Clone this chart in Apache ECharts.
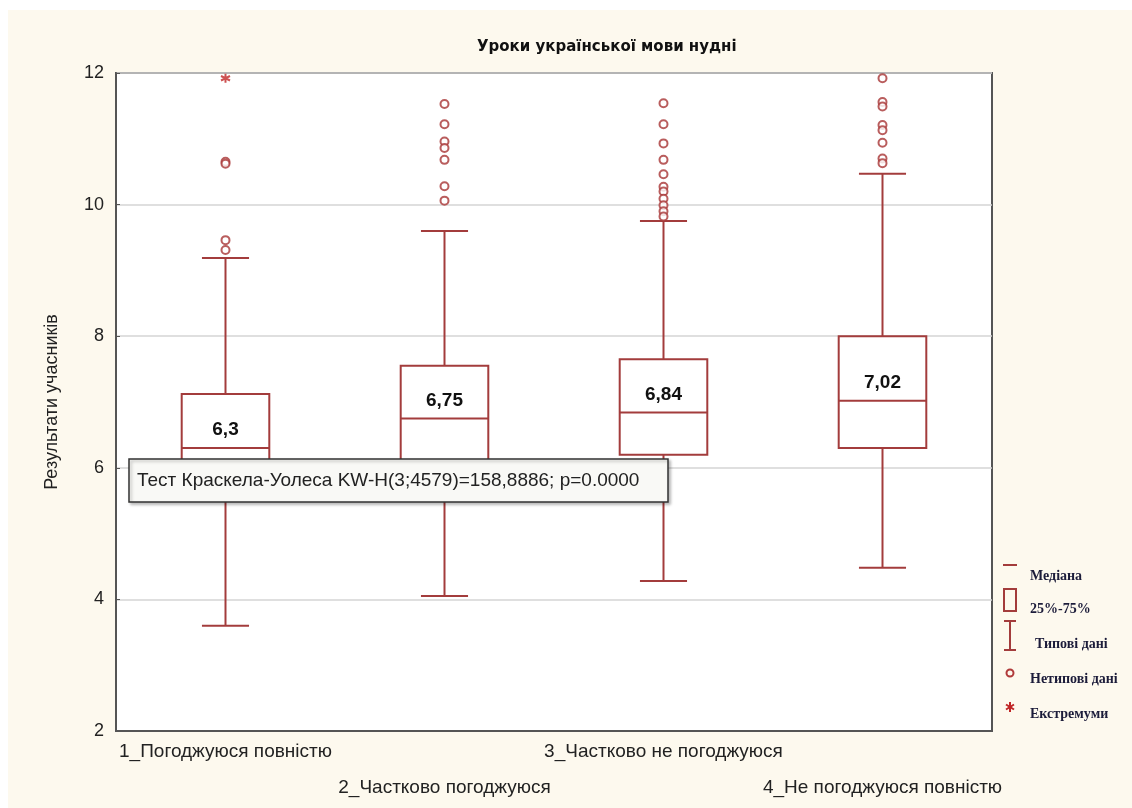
<!DOCTYPE html>
<html>
<head>
<meta charset="utf-8">
<title>Уроки української мови нудні</title>
<script src="https://cdn.jsdelivr.net/npm/echarts@6/dist/echarts.min.js"></script>
<style>
    html, body {
        margin: 0; padding: 0; overflow: hidden;
        background: linear-gradient(#fff, #fff) top left / 100% 10px no-repeat,
                    linear-gradient(#fff, #fff) top left / 8px 100% no-repeat,
                    #fdf9ee;
    }
    #container { width: 1132px; height: 808px; }
</style>
</head>
<body>
<div id="container"></div>
<script>
// групи відповідей
var categories = ['1_Погоджуюся повністю', '2_Частково погоджуюся', '3_Частково не погоджуюся', '4_Не погоджуюся повністю'];
// межі "типових даних", квартилі і медіана
var whiskerLow = [3.6, 4.05, 4.28, 4.48];
var q1 = [5.75, 5.95, 6.2, 6.3];
var median = [6.3, 6.75, 6.84, 7.02];
var q3 = [7.12, 7.55, 7.65, 8.0];
var whiskerHigh = [9.19, 9.6, 9.75, 10.47];
var medianLabels = ['6,3', '6,75', '6,84', '7,02'];
// нетипові дані (індекс групи, значення)
var outliers = [
    [0, 10.65], [0, 10.62], [0, 9.46], [0, 9.31],
    [1, 11.53], [1, 11.22], [1, 10.96], [1, 10.86], [1, 10.68], [1, 10.28], [1, 10.06],
    [2, 11.54], [2, 11.22], [2, 10.93], [2, 10.68], [2, 10.46], [2, 10.27], [2, 10.2], [2, 10.09], [2, 9.99], [2, 9.9], [2, 9.82],
    [3, 11.92], [3, 11.56], [3, 11.49], [3, 11.21], [3, 11.13], [3, 10.94], [3, 10.7], [3, 10.63]
];
// екстремуми
var extremes = [[0, 11.92]];
var yTicks = [2, 4, 6, 8, 10, 12];

var boxColor = '#a33c3c';

var boxData = [];
for (var i = 0; i < categories.length; i++) {
    boxData.push([i, whiskerLow[i], q1[i], median[i], q3[i], whiskerHigh[i]]);
}

function renderBox(params, api) {
    var x = api.value(0);
    var lo = api.coord([x, api.value(1)]);
    var b1 = api.coord([x, api.value(2)]);
    var md = api.coord([x, api.value(3)]);
    var b3 = api.coord([x, api.value(4)]);
    var hi = api.coord([x, api.value(5)]);
    var band = api.size([1, 0])[0];
    var bw = band * 0.4;
    var cw = band * 0.215;
    var cx = md[0];
    var line = { stroke: boxColor, lineWidth: 2 };
    return {
        type: 'group',
        children: [
            { type: 'line', shape: { x1: cx, y1: hi[1], x2: cx, y2: b3[1] }, style: line },
            { type: 'line', shape: { x1: cx, y1: b1[1], x2: cx, y2: lo[1] }, style: line },
            { type: 'line', shape: { x1: cx - cw / 2, y1: hi[1], x2: cx + cw / 2, y2: hi[1] }, style: line },
            { type: 'line', shape: { x1: cx - cw / 2, y1: lo[1], x2: cx + cw / 2, y2: lo[1] }, style: line },
            {
                type: 'rect',
                shape: { x: cx - bw / 2, y: b3[1], width: bw, height: b1[1] - b3[1] },
                style: { fill: '#fff', stroke: boxColor, lineWidth: 2 }
            },
            { type: 'line', shape: { x1: cx - bw / 2, y1: md[1], x2: cx + bw / 2, y2: md[1] }, style: line },
            {
                type: 'text',
                x: cx, y: md[1] - 18,
                style: {
                    text: medianLabels[params.dataIndex],
                    fill: '#111',
                    font: 'bold 19px "Liberation Sans", Arial, sans-serif',
                    textAlign: 'center',
                    textVerticalAlign: 'middle'
                }
            }
        ]
    };
}

var legendFont = 'bold 14px "Liberation Serif", "DejaVu Serif", serif';
var legendText = '#1c1c3a';
var topZ = 100;

var myChart = echarts.init(document.getElementById("container"));
option = null;
option = {
    backgroundColor: 'transparent',
    animation: false,
    title: {
        text: 'Уроки української мови нудні',
        left: 472,
        top: 35,
        textStyle: {
            fontFamily: '"DejaVu Sans", sans-serif',
            fontWeight: 'bold',
            fontSize: 15,
            color: '#111'
        }
    },
    grid: {
        left: 116,
        right: 140,
        top: 73,
        bottom: 77,
        show: true,
        backgroundColor: '#fff',
        borderColor: '#555',
        borderWidth: 2
    },
    xAxis: {
        type: 'category',
        data: categories,
        boundaryGap: true,
        axisLine: { lineStyle: { color: '#555', width: 2 } },
        axisTick: { inside: true, alignWithLabel: true, length: 5, lineStyle: { color: '#555' } },
        axisLabel: {
            interval: 0,
            margin: 3,
            lineHeight: 36,
            fontSize: 19,
            fontFamily: '"Liberation Sans Narrow", "Liberation Sans", sans-serif',
            color: '#222',
            formatter: function (value, index) {
                return index % 2 ? '\n' + value : value;
            }
        },
        splitLine: { show: false }
    },
    yAxis: {
        type: 'value',
        min: yTicks[0],
        max: yTicks[yTicks.length - 1],
        interval: 2,
        name: 'Результати учасників',
        nameLocation: 'middle',
        nameRotate: 90,
        nameGap: 55,
        nameTextStyle: {
            fontSize: 18,
            fontFamily: '"Liberation Sans", Arial, sans-serif',
            color: '#222'
        },
        axisLine: { show: true, lineStyle: { color: '#555', width: 2 } },
        axisTick: { show: true, inside: true, length: 4, lineStyle: { color: '#555' } },
        axisLabel: {
            margin: 12,
            fontSize: 18,
            fontFamily: '"Liberation Sans", Arial, sans-serif',
            color: '#222'
        },
        splitLine: { show: true, lineStyle: { color: '#d4d4d4', width: 1.5 } }
    },
    series: [
        {
            name: '25%-75%',
            type: 'custom',
            renderItem: renderBox,
            encode: { x: 0, y: [1, 2, 3, 4, 5] },
            data: boxData,
            z: 3
        },
        {
            name: 'Нетипові дані',
            type: 'scatter',
            data: outliers,
            symbol: 'circle',
            symbolSize: 8,
            itemStyle: { color: '#fff', borderColor: '#a83434', borderWidth: 2 },
            z: 4
        },
        {
            name: 'Екстремуми',
            type: 'scatter',
            data: extremes,
            symbol: 'path://M5,0L5,10M0.7,2.5L9.3,7.5M0.7,7.5L9.3,2.5',
            symbolSize: 9,
            itemStyle: { color: 'none', borderColor: '#c02626', borderWidth: 2 },
            z: 4
        }
    ],
    graphic: [
        // тест Краскела-Уоліса
        {
            type: 'rect',
            z: topZ,
            shape: { x: 129, y: 459, width: 539, height: 43 },
            style: {
                fill: '#f9f9f6', stroke: '#333', lineWidth: 1.5,
                shadowBlur: 3, shadowOffsetX: 2, shadowOffsetY: 2, shadowColor: 'rgba(0,0,0,0.25)'
            }
        },
        {
            type: 'text',
            z: topZ + 1,
            x: 137, y: 481,
            style: {
                text: 'Тест Краскела-Уолеса KW-H(3;4579)=158,8886; p=0.0000',
                fill: '#222',
                font: '19px "Liberation Sans", Arial, sans-serif',
                textVerticalAlign: 'middle'
            }
        },
        // легенда
        { type: 'line', z: topZ, shape: { x1: 1003, y1: 565, x2: 1017, y2: 565 }, style: { stroke: boxColor, lineWidth: 2 } },
        { type: 'text', z: topZ, x: 1030, y: 576, style: { text: 'Медіана', font: legendFont, fill: legendText, textVerticalAlign: 'middle' } },
        { type: 'rect', z: topZ, shape: { x: 1004, y: 589, width: 12, height: 22 }, style: { fill: 'none', stroke: boxColor, lineWidth: 2 } },
        { type: 'text', z: topZ, x: 1030, y: 609, style: { text: '25%-75%', font: legendFont, fill: legendText, textVerticalAlign: 'middle' } },
        { type: 'line', z: topZ, shape: { x1: 1010, y1: 621, x2: 1010, y2: 650 }, style: { stroke: boxColor, lineWidth: 2 } },
        { type: 'line', z: topZ, shape: { x1: 1004, y1: 621, x2: 1016, y2: 621 }, style: { stroke: boxColor, lineWidth: 2 } },
        { type: 'line', z: topZ, shape: { x1: 1004, y1: 650, x2: 1016, y2: 650 }, style: { stroke: boxColor, lineWidth: 2 } },
        { type: 'text', z: topZ, x: 1035, y: 644, style: { text: 'Типові дані', font: legendFont, fill: legendText, textVerticalAlign: 'middle' } },
        { type: 'circle', z: topZ, shape: { cx: 1010, cy: 673, r: 3.5 }, style: { fill: 'none', stroke: '#b03a3a', lineWidth: 2 } },
        { type: 'text', z: topZ, x: 1030, y: 679, style: { text: 'Нетипові дані', font: legendFont, fill: legendText, textVerticalAlign: 'middle' } },
        { type: 'line', z: topZ, shape: { x1: 1010, y1: 702, x2: 1010, y2: 712 }, style: { stroke: '#c02626', lineWidth: 2 } },
        { type: 'line', z: topZ, shape: { x1: 1006, y1: 704.5, x2: 1014, y2: 709.5 }, style: { stroke: '#c02626', lineWidth: 2 } },
        { type: 'line', z: topZ, shape: { x1: 1006, y1: 709.5, x2: 1014, y2: 704.5 }, style: { stroke: '#c02626', lineWidth: 2 } },
        { type: 'text', z: topZ, x: 1030, y: 714, style: { text: 'Екстремуми', font: legendFont, fill: legendText, textVerticalAlign: 'middle' } }
    ]
};
if (option && typeof option === "object") {
    myChart.setOption(option, true);
}
</script>
</body>
</html>
